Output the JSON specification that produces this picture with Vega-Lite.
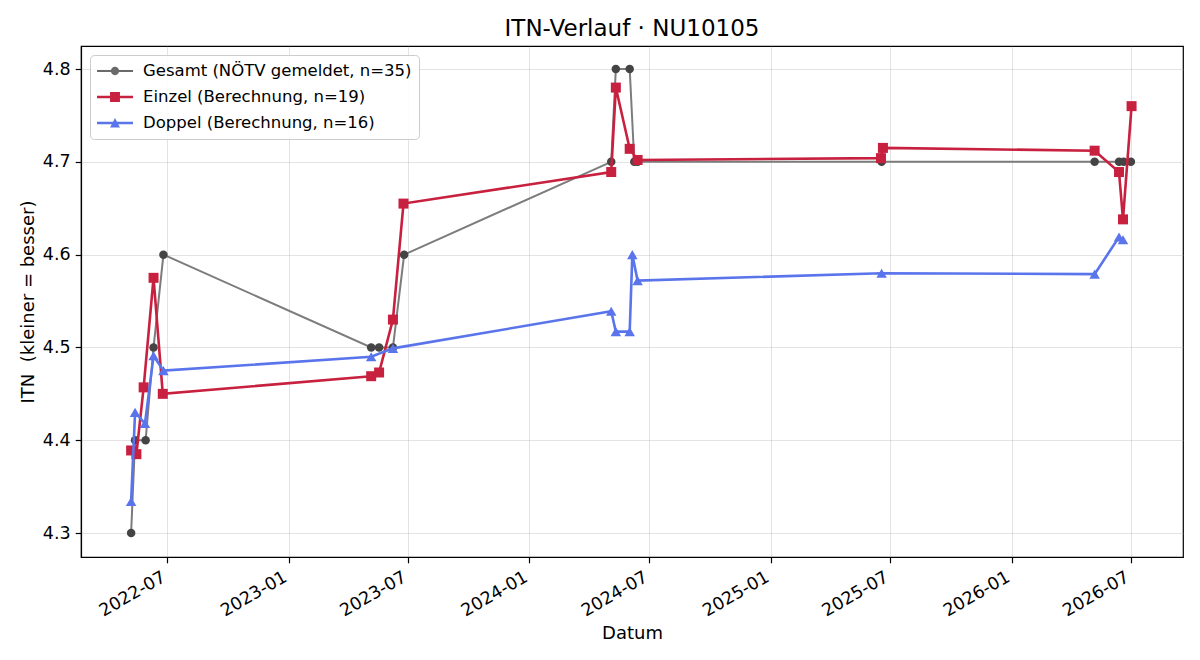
{
  "$schema": "https://vega.github.io/schema/vega-lite/v6.json",
  "width": 1102,
  "height": 511,
  "autosize": {"type": "none"},
  "padding": {"left": 81, "top": 46, "right": 17, "bottom": 103},
  "background": "white",
  "config": {
    "font": "DejaVu Sans",
    "view": {"stroke": "black", "strokeWidth": 1.2},
    "axis": {
      "labelFont": "DejaVu Sans", "labelFontSize": 17.5, "labelColor": "black",
      "titleFont": "DejaVu Sans", "titleFontSize": 18, "titleFontWeight": "normal", "titleColor": "black",
      "domainColor": "black", "domainWidth": 1.2,
      "tickColor": "black", "tickWidth": 1.2, "tickSize": 5.8, "labelPadding": 5,
      "gridColor": "#b0b0b0", "gridOpacity": 0.35, "gridWidth": 1
    }
  },
  "title": {"text": "ITN-Verlauf · NU10105", "fontSize": 23, "font": "DejaVu Sans", "fontWeight": "normal", "color": "black", "anchor": "middle", "offset": 5},
  "data": {"values": [
    {"s": "Gesamt (NÖTV gemeldet, n=35)", "d": "2022-05-07", "v": 4.3},
    {"s": "Gesamt (NÖTV gemeldet, n=35)", "d": "2022-05-13", "v": 4.4},
    {"s": "Gesamt (NÖTV gemeldet, n=35)", "d": "2022-05-29", "v": 4.4},
    {"s": "Gesamt (NÖTV gemeldet, n=35)", "d": "2022-06-10", "v": 4.5},
    {"s": "Gesamt (NÖTV gemeldet, n=35)", "d": "2022-06-25", "v": 4.6},
    {"s": "Gesamt (NÖTV gemeldet, n=35)", "d": "2023-05-06", "v": 4.5},
    {"s": "Gesamt (NÖTV gemeldet, n=35)", "d": "2023-05-18", "v": 4.5},
    {"s": "Gesamt (NÖTV gemeldet, n=35)", "d": "2023-06-08", "v": 4.5},
    {"s": "Gesamt (NÖTV gemeldet, n=35)", "d": "2023-06-25", "v": 4.6},
    {"s": "Gesamt (NÖTV gemeldet, n=35)", "d": "2024-05-04", "v": 4.7},
    {"s": "Gesamt (NÖTV gemeldet, n=35)", "d": "2024-05-11", "v": 4.8},
    {"s": "Gesamt (NÖTV gemeldet, n=35)", "d": "2024-06-01", "v": 4.8},
    {"s": "Gesamt (NÖTV gemeldet, n=35)", "d": "2024-06-08", "v": 4.7},
    {"s": "Gesamt (NÖTV gemeldet, n=35)", "d": "2024-06-13", "v": 4.7},
    {"s": "Gesamt (NÖTV gemeldet, n=35)", "d": "2025-06-18", "v": 4.7},
    {"s": "Gesamt (NÖTV gemeldet, n=35)", "d": "2026-05-07", "v": 4.7},
    {"s": "Gesamt (NÖTV gemeldet, n=35)", "d": "2026-06-13", "v": 4.7},
    {"s": "Gesamt (NÖTV gemeldet, n=35)", "d": "2026-06-20", "v": 4.7},
    {"s": "Gesamt (NÖTV gemeldet, n=35)", "d": "2026-07-01", "v": 4.7},
    {"s": "Einzel (Berechnung, n=19)", "d": "2022-05-07", "v": 4.389},
    {"s": "Einzel (Berechnung, n=19)", "d": "2022-05-15", "v": 4.385},
    {"s": "Einzel (Berechnung, n=19)", "d": "2022-05-26", "v": 4.457},
    {"s": "Einzel (Berechnung, n=19)", "d": "2022-06-10", "v": 4.575},
    {"s": "Einzel (Berechnung, n=19)", "d": "2022-06-24", "v": 4.45},
    {"s": "Einzel (Berechnung, n=19)", "d": "2023-05-06", "v": 4.469},
    {"s": "Einzel (Berechnung, n=19)", "d": "2023-05-18", "v": 4.473},
    {"s": "Einzel (Berechnung, n=19)", "d": "2023-06-08", "v": 4.53},
    {"s": "Einzel (Berechnung, n=19)", "d": "2023-06-24", "v": 4.655},
    {"s": "Einzel (Berechnung, n=19)", "d": "2024-05-04", "v": 4.689},
    {"s": "Einzel (Berechnung, n=19)", "d": "2024-05-11", "v": 4.78},
    {"s": "Einzel (Berechnung, n=19)", "d": "2024-06-01", "v": 4.714},
    {"s": "Einzel (Berechnung, n=19)", "d": "2024-06-13", "v": 4.702},
    {"s": "Einzel (Berechnung, n=19)", "d": "2025-06-17", "v": 4.704},
    {"s": "Einzel (Berechnung, n=19)", "d": "2025-06-20", "v": 4.715},
    {"s": "Einzel (Berechnung, n=19)", "d": "2026-05-07", "v": 4.712},
    {"s": "Einzel (Berechnung, n=19)", "d": "2026-06-13", "v": 4.689},
    {"s": "Einzel (Berechnung, n=19)", "d": "2026-06-19", "v": 4.638},
    {"s": "Einzel (Berechnung, n=19)", "d": "2026-07-02", "v": 4.76},
    {"s": "Doppel (Berechnung, n=16)", "d": "2022-05-07", "v": 4.334},
    {"s": "Doppel (Berechnung, n=16)", "d": "2022-05-13", "v": 4.43},
    {"s": "Doppel (Berechnung, n=16)", "d": "2022-05-28", "v": 4.418},
    {"s": "Doppel (Berechnung, n=16)", "d": "2022-06-10", "v": 4.491},
    {"s": "Doppel (Berechnung, n=16)", "d": "2022-06-25", "v": 4.475},
    {"s": "Doppel (Berechnung, n=16)", "d": "2023-05-06", "v": 4.49},
    {"s": "Doppel (Berechnung, n=16)", "d": "2023-06-08", "v": 4.499},
    {"s": "Doppel (Berechnung, n=16)", "d": "2024-05-04", "v": 4.539},
    {"s": "Doppel (Berechnung, n=16)", "d": "2024-05-11", "v": 4.517},
    {"s": "Doppel (Berechnung, n=16)", "d": "2024-06-01", "v": 4.517},
    {"s": "Doppel (Berechnung, n=16)", "d": "2024-06-05", "v": 4.6},
    {"s": "Doppel (Berechnung, n=16)", "d": "2024-06-13", "v": 4.572},
    {"s": "Doppel (Berechnung, n=16)", "d": "2025-06-18", "v": 4.58},
    {"s": "Doppel (Berechnung, n=16)", "d": "2026-05-07", "v": 4.579},
    {"s": "Doppel (Berechnung, n=16)", "d": "2026-06-13", "v": 4.619},
    {"s": "Doppel (Berechnung, n=16)", "d": "2026-06-19", "v": 4.616}
  ]},
  "encoding": {
    "x": {"field": "d", "type": "temporal",
      "scale": {"domain": ["2022-02-20", "2026-09-18"]},
      "axis": {"title": "Datum", "format": "%Y-%m", "labelAngle": -30, "labelAlign": "right", "labelBaseline": "top", "labelOffset": -8,
        "values": [{"year": 2022, "month": 7, "date": 1}, {"year": 2023, "month": 1, "date": 1}, {"year": 2023, "month": 7, "date": 1}, {"year": 2024, "month": 1, "date": 1}, {"year": 2024, "month": 7, "date": 1}, {"year": 2025, "month": 1, "date": 1}, {"year": 2025, "month": 7, "date": 1}, {"year": 2026, "month": 1, "date": 1}, {"year": 2026, "month": 7, "date": 1}],
        "titleY": 81, "titleBaseline": "alphabetic"}},
    "y": {"field": "v", "type": "quantitative",
      "scale": {"domain": [4.2742, 4.8248], "nice": false, "zero": false},
      "axis": {"title": "ITN \u00a0(kleiner = besser)", "values": [4.3, 4.4, 4.5, 4.6, 4.7, 4.8], "format": ".1f", "titleX": -47.7, "titleBaseline": "alphabetic"}}
  },
  "layer": [
    {
      "transform": [{"filter": "datum.s === 'Gesamt (NÖTV gemeldet, n=35)'"}],
      "mark": {"type": "line", "strokeWidth": 2},
      "encoding": {
        "color": {"field": "s", "type": "nominal",
          "scale": {"domain": ["Gesamt (NÖTV gemeldet, n=35)", "Einzel (Berechnung, n=19)", "Doppel (Berechnung, n=16)"], "range": ["#7c7c7c", "#c8203f", "#5a74ec"]},
          "legend": {
            "title": null, "orient": "top-left", "offset": 9, "padding": 7,
            "fillColor": "rgba(255,255,255,0.85)", "strokeColor": "#cccccc", "cornerRadius": 4,
            "labelFont": "DejaVu Sans", "labelFontSize": 16.5, "labelColor": "black", "labelLimit": 0,
            "symbolSize": 324, "symbolOffset": 9, "labelOffset": 19, "rowPadding": 8,
            "encode": {"symbols": {"update": {
              "shape": {"signal": "datum.value === 'Gesamt (NÖTV gemeldet, n=35)' ? 'M-2,-0.11H2V0.11H-2Z M-0.46,0A0.46,0.46 0 1 1 0.46,0A0.46,0.46 0 1 1 -0.46,0Z' : datum.value === 'Einzel (Berechnung, n=19)' ? 'M-2,-0.14H2V0.14H-2Z M-0.55,-0.55H0.55V0.55H-0.55Z' : 'M-2,-0.14H2V0.14H-2Z M0,-0.55L0.55,0.5H-0.55Z'"},
              "fill": {"signal": "datum.value === 'Gesamt (NÖTV gemeldet, n=35)' ? '#6a6a6a' : datum.value === 'Einzel (Berechnung, n=19)' ? '#c8203f' : '#5a74ec'"},
              "stroke": {"value": "transparent"},
              "strokeWidth": {"value": 0},
              "opacity": {"value": 1}
            }}}
          }}
      }
    },
    {
      "transform": [{"filter": "datum.s === 'Gesamt (NÖTV gemeldet, n=35)'"}],
      "mark": {"type": "point", "filled": true, "shape": "circle", "size": 72, "color": "#444444", "opacity": 1}
    },
    {
      "transform": [{"filter": "datum.s === 'Einzel (Berechnung, n=19)'"}],
      "mark": {"type": "line", "strokeWidth": 2.6, "color": "#c8203f"}
    },
    {
      "transform": [{"filter": "datum.s === 'Einzel (Berechnung, n=19)'"}],
      "mark": {"type": "point", "filled": true, "shape": "square", "size": 100, "color": "#c8203f", "opacity": 1}
    },
    {
      "transform": [{"filter": "datum.s === 'Doppel (Berechnung, n=16)'"}],
      "mark": {"type": "line", "strokeWidth": 2.6, "color": "#5a74ec"}
    },
    {
      "transform": [{"filter": "datum.s === 'Doppel (Berechnung, n=16)'"}],
      "mark": {"type": "point", "filled": true, "shape": "triangle-up", "size": 110, "color": "#5a74ec", "opacity": 1}
    }
  ]
}
